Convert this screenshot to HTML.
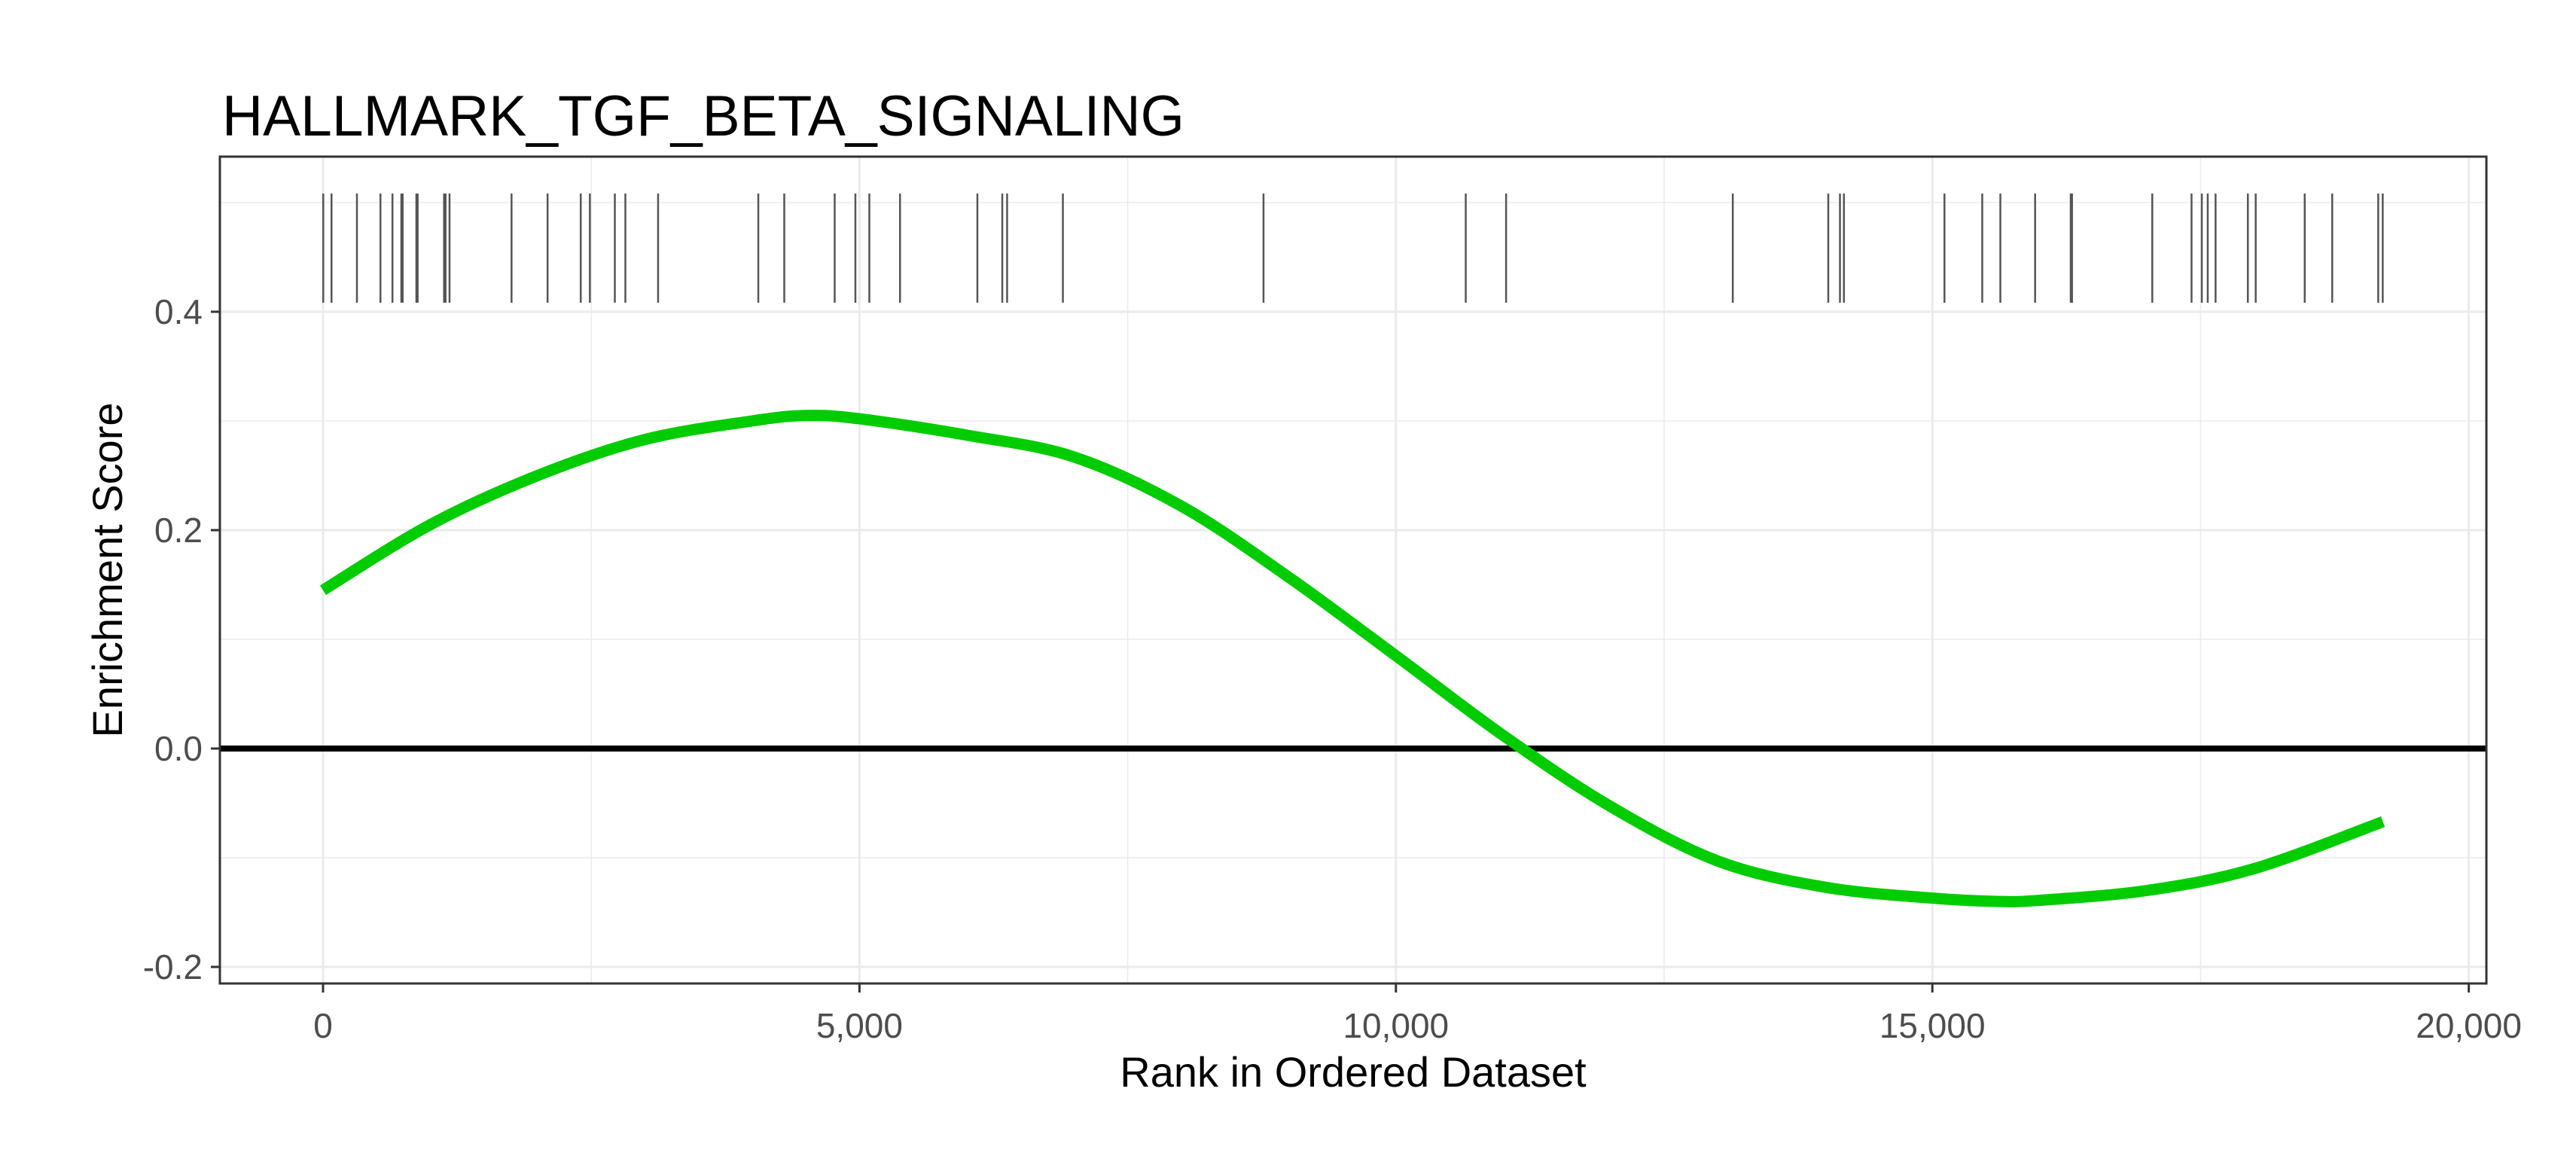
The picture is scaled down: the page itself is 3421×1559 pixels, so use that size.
<!DOCTYPE html>
<html><head><meta charset="utf-8"><style>
html,body{margin:0;padding:0;background:#fff}
svg{display:block}
text{font-family:"Liberation Sans",Arial,sans-serif}
</style></head><body>
<svg id="chart" width="3421" height="1559" viewBox="0 0 3421 1559" xmlns="http://www.w3.org/2000/svg">
<rect width="3421" height="1559" fill="#fff"/>
<text x="295" y="180" font-size="76" fill="#000" textLength="1278" lengthAdjust="spacingAndGlyphs">HALLMARK_TGF_BETA_SIGNALING</text>
<g id="grid"></g>
<g id="rug"></g>
<line id="zero" stroke="#000" stroke-width="8"/>
<path id="curve" fill="none" stroke="#00cc00" stroke-width="15" stroke-linejoin="round"/>
<rect x="292" y="208" width="3010" height="1098" fill="none" stroke="#333" stroke-width="3"/>
<g id="axes"></g>
<text x="1797" y="1443" font-size="56" text-anchor="middle" fill="#000">Rank in Ordered Dataset</text>
<text x="0" y="0" font-size="56" text-anchor="middle" fill="#000" transform="translate(162,757) rotate(-90)">Enrichment Score</text>
</svg>
<script>
const xTicks=[0,5000,10000,15000,20000];
const xTickLabels=["0","5,000","10,000","15,000","20,000"];
const xMinor=[2500,7500,12500,17500];
const yTicks=[0.4,0.2,0.0,-0.2];
const yTickLabels=["0.4","0.2","0.0","-0.2"];
const yMinor=[0.5,0.3,0.1,-0.1];
const hitRanks=[2,79,316,535,647,730,742,870,882,1128,1142,1179,1757,2093,2402,2487,2720,2818,3123,4057,4299,4769,4962,5092,5378,6099,6331,6376,6896,8766,10651,11027,13140,14030,14139,14176,15113,15465,15634,15958,16290,16302,17050,17416,17512,17567,17640,17941,18014,18471,18727,19156,19198];
const curveRanks=[0,1000,2000,3000,4000,4500,5000,6000,7000,8000,9000,10000,11000,12000,13000,14000,15000,15600,16000,17000,18000,19200];
const curveScores=[0.145,0.205,0.25,0.283,0.300,0.305,0.302,0.287,0.267,0.222,0.157,0.085,0.012,-0.053,-0.103,-0.127,-0.137,-0.14,-0.139,-0.13,-0.11,-0.067];
const NS="http://www.w3.org/2000/svg";
const X0=292,X1=3302,Y0=208,Y1=1306;
function xs(v){return 429+v*0.14248;}
function ys(v){return 994-v*1450;}
function mk(tag,attrs,parent){const e=document.createElementNS(NS,tag);for(const k in attrs)e.setAttribute(k,attrs[k]);document.getElementById(parent).appendChild(e);return e;}
xMinor.forEach(v=>{const e=mk('line',{x1:xs(v),x2:xs(v),y1:Y0,y2:Y1,stroke:'#ebebeb','stroke-width':1.5},'grid');

});
yMinor.forEach(v=>{const e=mk('line',{x1:X0,x2:X1,y1:ys(v),y2:ys(v),stroke:'#ebebeb','stroke-width':1.5},'grid');

});
xTicks.forEach(v=>{const e=mk('line',{x1:xs(v),x2:xs(v),y1:Y0,y2:Y1,stroke:'#ebebeb','stroke-width':3},'grid');

});
yTicks.forEach(v=>{const e=mk('line',{x1:X0,x2:X1,y1:ys(v),y2:ys(v),stroke:'#ebebeb','stroke-width':3},'grid');

});
hitRanks.forEach(v=>{const e=mk('line',{x1:xs(v),x2:xs(v),y1:257,y2:402,stroke:'#555','stroke-width':2.5},'rug');

});
const z=document.getElementById('zero');z.setAttribute('x1',X0);z.setAttribute('x2',X1);z.setAttribute('y1',ys(0));z.setAttribute('y2',ys(0));
const pts=curveRanks.map((r,i)=>[xs(r),ys(curveScores[i])]);
let d='M'+pts[0][0]+','+pts[0][1];
for(let i=0;i<pts.length-1;i++){const p0=pts[Math.max(0,i-1)],p1=pts[i],p2=pts[i+1],p3=pts[Math.min(pts.length-1,i+2)];
const c1=[p1[0]+(p2[0]-p0[0])/6,p1[1]+(p2[1]-p0[1])/6],c2=[p2[0]-(p3[0]-p1[0])/6,p2[1]-(p3[1]-p1[1])/6];
d+=' C'+c1[0]+','+c1[1]+' '+c2[0]+','+c2[1]+' '+p2[0]+','+p2[1];}
document.getElementById('curve').setAttribute('d',d);
xTicks.forEach((v,i)=>{const t=mk('line',{x1:xs(v),x2:xs(v),y1:Y1,y2:Y1+12,stroke:'#333','stroke-width':3},'axes');


const l=mk('text',{x:xs(v),y:1378,'font-size':46,'text-anchor':'middle',fill:'#4d4d4d'},'axes');l.textContent=xTickLabels[i];

});
yTicks.forEach((v,i)=>{const t=mk('line',{x1:X0-12,x2:X0,y1:ys(v),y2:ys(v),stroke:'#333','stroke-width':3},'axes');


const l=mk('text',{x:269,y:ys(v)+16,'font-size':46,'text-anchor':'end',fill:'#4d4d4d'},'axes');l.textContent=yTickLabels[i];

});
</script>
</body></html>
